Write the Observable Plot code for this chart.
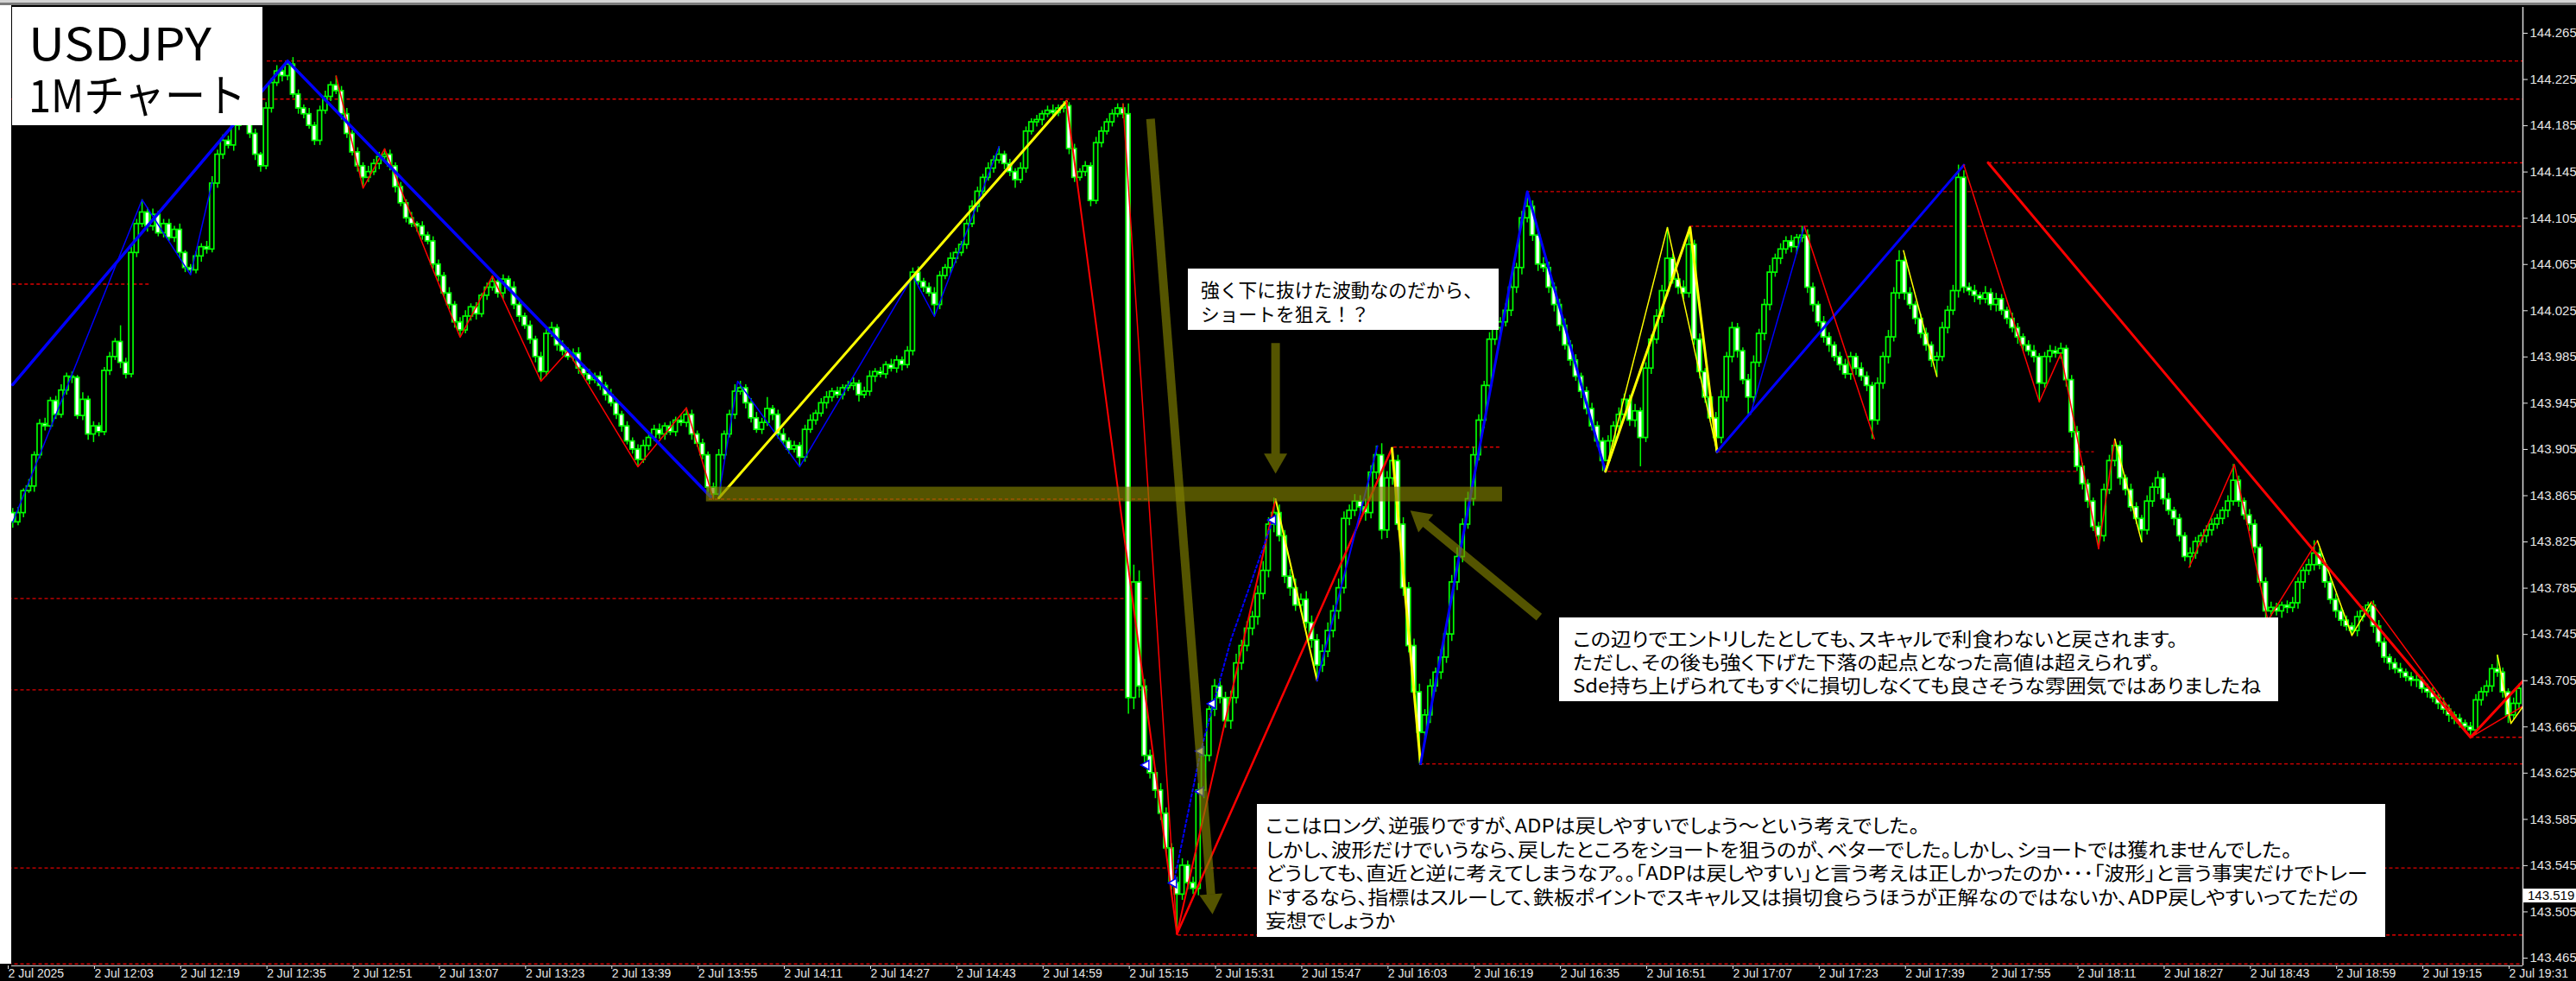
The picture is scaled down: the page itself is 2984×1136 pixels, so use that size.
<!DOCTYPE html>
<html><head><meta charset="utf-8">
<script src="https://cdn.jsdelivr.net/npm/d3@7"></script>
<script src="https://cdn.jsdelivr.net/npm/@observablehq/plot@0.6"></script>
<style>
html,body{margin:0;padding:0;background:#000;}
#wrap{position:relative;width:2984px;height:1136px;overflow:hidden;background:#000;}
#wrap svg{position:absolute;left:0;top:0;}
.box{position:absolute;background:#fff;color:#000;font-family:"Noto Sans CJK JP";white-space:nowrap;box-sizing:border-box;overflow:visible;}
.box span{display:inline-block;transform-origin:0 50%;}
#tag{position:absolute;left:2923px;width:61px;height:16px;background:#fff;color:#000;font:15px "Liberation Sans";line-height:16px;text-align:left;padding-left:5px;box-sizing:border-box;}
</style></head><body><div id="wrap"></div>
<script>
// ---------- DATA (prices in 0.001 above 143.000) ----------
const firstOpen = 846;
const closePts = [
850,842,850,869,873,900,927,925,947,935,
956,968,967,934,948,918,925,920,973,985,
998,980,970,1075,1100,1110,1098,1108,1092,1100,
1088,1095,1075,1062,1060,1072,1080,1078,1135,1160,
1172,1168,1185,1190,1195,1178,1160,1150,1200,1222,
1232,1228,1238,1212,1200,1195,1185,1172,1198,1210,
1220,1215,1195,1178,1162,1150,1140,1145,1152,1158,
1160,1150,1132,1118,1105,1100,1098,1090,1085,1065,
1055,1040,1030,1015,1008,1020,1028,1022,1038,1045,
1050,1040,1052,1045,1030,1020,1012,1000,985,972,
1005,1010,995,990,985,988,975,970,965,968,
960,952,945,935,925,912,905,896,908,915,
922,918,925,920,930,928,935,918,910,900,
872,866,900,918,935,955,958,945,932,922,
928,940,935,918,912,905,908,898,922,930,
936,945,950,955,952,958,960,962,952,955,
968,972,970,978,975,982,978,990,1058,1050,
1045,1040,1030,1055,1062,1070,1075,1082,1100,1115,
1128,1140,1148,1155,1160,1152,1145,1138,1148,1180,
1188,1190,1195,1198,1196,1200,1202,1165,1140,1145,
1150,1120,1170,1180,1188,1195,1200,1195,690,790,
700,640,625,610,590,560,530,520,545,530,
525,610,640,680,700,690,670,690,720,735,
750,760,780,800,840,850,830,795,785,770,
775,755,740,718,730,748,765,785,845,852,
860,855,850,885,900,835,880,895,840,785,
735,695,660,675,700,712,725,745,790,812,
840,862,900,930,960,1000,1010,1015,1025,1045,
1062,1105,1115,1090,1065,1062,1045,1030,1012,995,
982,968,955,940,925,912,895,912,925,935,
948,930,938,915,975,1000,1020,1042,1070,1052,
1045,1040,1082,1000,972,950,932,915,950,985,
1010,990,965,950,980,1005,1030,1058,1070,1078,
1085,1080,1088,1090,1045,1030,1015,1002,995,985,
978,970,985,975,968,960,930,962,985,1002,
1040,1068,1040,1030,1018,1005,995,982,985,1010,
1025,1042,1140,1045,1042,1038,1035,1040,1030,1035,
1025,1018,1010,1002,995,990,985,962,985,990,
988,992,965,920,890,875,860,838,830,870,
895,908,880,870,855,845,835,860,872,880,
862,852,845,830,812,815,825,830,835,840,
845,852,860,878,860,848,840,820,790,765,
768,765,770,768,772,790,800,805,815,805,
790,775,765,757,752,748,760,765,770,752,
738,725,720,715,712,708,705,705,698,695,
690,685,680,675,672,668,665,662,688,695,
700,715,712,695,675,685,698];
const upperWick = [
3,4,5,2,6,3,4,5,3,4, 5,3,4,2,6,3,4,3,3,4, 3,14,4,5,4,11,4,5,3,4, 4,3,5,2,3,4,3,5,6,4,
5,4,3,4,6,3,4,2,5,4, 5,4,3,6,4,3,5,3,4,5, 3,8,4,5,3,4,3,5,4,4, 5,4,3,4,3,5,2,4,3,4,
4,3,5,3,4,5,3,4,2,4, 5,4,4,3,5,4,3,4,3,4, 4,5,3,4,3,4,5,3,4,3, 4,3,5,4,3,4,3,4,5,3,
4,5,3,4,3,5,6,4,3,4, 3,4,5,3,4,6,6,3,4,5, 4,10,3,4,5,3,4,3,4,5, 3,4,5,3,4,3,4,5,3,4,
5,3,4,3,5,4,3,4,4,5, 3,4,5,4,3,5,4,3,4,5, 4,3,5,4,7,3,4,3,5,4, 3,4,3,4,5,3,4,3,4,3,
4,3,5,4,3,4,4,4,9,15, 10,6,5,4,6,5,4,5,6,4, 5,6,8,5,6,7,5,6,8,5, 6,5,7,8,6,13,7,5,6,8,
5,7,6,5,6,7,5,8,6,5, 6,5,7,6,8,10,6,11,5,6, 5,6,7,5,6,4,7,5,6,8, 5,6,7,5,4,6,5,4,6,5,
4,6,13,5,4,6,5,4,5,6, 4,5,3,4,5,4,3,5,4,6, 5,4,6,3,5,4,6,5,27,4, 5,6,15,4,5,3,4,5,6,4,
5,4,3,5,6,4,5,6,4,5, 4,5,3,8,5,4,3,5,4,3, 4,5,4,3,5,4,3,5,4,6, 5,9,4,5,3,4,5,3,4,5,
4,5,11,6,4,5,3,6,4,5, 4,3,5,4,3,4,5,3,4,5, 4,5,3,4,5,3,4,3,4,5, 5,6,4,3,5,4,3,5,4,6,
4,5,3,4,3,5,4,3,4,5, 4,3,5,14,4,3,5,4,3,4, 5,4,3,4,5,4,3,5,11,4, 3,4,5,3,4,3,5,4,3,4,
5,4,3,4,5,3,4,5,3,4, 4,3,5,4,3,4,3,4,5,4, 5,4,12,4,3,5,4];
const lowerWick = [
4,5,3,4,2,5,3,4,3,4, 3,4,5,3,4,5,7,4,3,4, 3,5,4,3,4,3,5,4,3,4, 3,4,5,4,4,3,5,4,3,4,
4,3,5,4,3,4,5,5,3,4, 3,5,4,3,5,4,3,4,4,3, 4,3,5,4,3,5,9,4,3,5, 3,4,5,3,4,3,5,4,3,4,
5,3,4,5,6,3,4,5,3,4, 3,4,5,3,4,5,3,4,5,8, 4,3,5,4,3,4,5,3,4,3, 4,5,3,4,5,3,4,6,3,4,
3,4,5,3,4,3,4,5,3,4, 5,4,3,4,3,4,3,5,4,3, 4,3,5,4,3,4,3,8,4,3, 4,3,5,4,3,4,3,4,6,3,
4,5,3,4,3,4,5,3,4,3, 4,3,10,4,3,5,4,3,4,3, 5,4,3,4,3,5,4,7,3,4, 3,4,5,3,4,3,4,5,4,3,
4,5,3,4,3,4,3,4,14,10, 10,6,5,7,6,5,6,34,5,6, 5,6,7,5,6,5,6,7,5,6, 5,6,7,5,6,7,5,6,7,5,
6,5,7,13,6,5,6,7,5,6, 5,6,7,5,6,8,7,6,5,7, 6,5,27,6,7,5,6,5,6,7, 5,4,6,5,7,4,5,6,4,5,
5,6,4,5,6,4,5,6,5,4, 5,4,6,5,4,5,9,4,5,6, 4,5,6,25,4,5,4,6,5,4, 6,5,4,5,6,5,4,12,5,4,
5,6,4,15,5,4,6,5,4,5, 4,5,6,4,5,6,4,5,6,4, 5,4,5,6,4,5,16,4,5,6, 4,5,6,4,5,4,5,6,14,4,
5,4,6,5,4,6,5,4,5,6, 4,5,4,6,5,4,5,16,4,5, 4,5,6,5,4,5,6,4,11,5, 4,5,6,5,4,5,10,4,5,6,
5,4,6,5,4,9,5,4,6,5, 4,5,6,4,5,4,6,5,4,8, 5,4,6,5,4,5,6,4,5,4, 5,4,6,5,4,4,5,4,5,6,
4,5,6,4,5,4,5,6,4,5, 4,5,4,6,5,4,5,7,4,5, 4,5,4,5,7,4,5];

const priceTicks = [144.265,144.225,144.185,144.145,144.105,144.065,144.025,143.985,143.945,143.905,
  143.865,143.825,143.785,143.745,143.705,143.665,143.625,143.585,143.545,143.505,143.465];
const timeTicks = [0,16,32,48,64,80,96,112,128,144,160,176,192,208,224,240,256,272,288,304,320,336,352,368,384,400,416,432,448,464];
const timeLabels = ["2 Jul 2025","2 Jul 12:03","2 Jul 12:19","2 Jul 12:35","2 Jul 12:51","2 Jul 13:07","2 Jul 13:23","2 Jul 13:39",
  "2 Jul 13:55","2 Jul 14:11","2 Jul 14:27","2 Jul 14:43","2 Jul 14:59","2 Jul 15:15","2 Jul 15:31","2 Jul 15:47","2 Jul 16:03",
  "2 Jul 16:19","2 Jul 16:35","2 Jul 16:51","2 Jul 17:07","2 Jul 17:23","2 Jul 17:39","2 Jul 17:55","2 Jul 18:11","2 Jul 18:27",
  "2 Jul 18:43","2 Jul 18:59","2 Jul 19:15","2 Jul 19:31"];
const currentPrice = 143.519;

// horizontal levels [price, fromBar, toBar]
const levels = [[144.241,48.2,467],[144.208,-2,467],[144.048,1,26.3],[144.153,367.6,467],[144.128,281.9,467],
  [144.098,312.2,467],[143.907,257.2,277.3],[143.903,317.2,387.2],[143.886,297,384],[143.862,130.2,211.8],
  [143.776,-2,212],[143.697,-2,212],[143.543,-2,467],[143.485,217.2,467],[143.656,457,467],[143.633,262.2,467],[143.460,-2,467]];

// zigzag lines [bar, price]
const blueThickA = [[1,143.961],[52,144.241],[130.5,143.864]];
const yellowThickA = [[132,143.863],[196.5,144.206]];
const redThin1 = [[196.5,144.206],[217,143.486]];
const redThin2 = [[207,144.204],[217,143.486]];
const redThin3 = [[217,143.486],[235.3,143.862]];
const redThin4 = [[217,143.486],[256.9,143.906]];
const blueDot1 = [[216.4,143.530],[221.4,143.644],[227,143.740],[234.8,143.844]];
const yellowThin1 = [[235.3,143.862],[243,143.705]];
const blueThin1 = [[243,143.705],[254.2,143.908]];
const yellowThickB = [[256.9,143.906],[262.2,143.633]];
const blueThickB = [[262.2,143.633],[282,144.128],[296.5,143.886]];
const yellowThinB = [[296.5,143.886],[308,144.097],[317.2,143.903]];
const yellowThickC = [[296.5,143.886],[312.2,144.097],[317.2,143.903]];
const blueThickC = [[317.2,143.903],[363,144.151]];
const blueThinC = [[323.4,143.935],[333.4,144.098]];
const redThinC = [[333.4,144.098],[346.4,143.914]];
const yellowThinC = [[351.8,144.077],[358,143.968]];
const redThinD = [[363,144.151],[377,143.946],[381,143.988],[388,143.819],[391,143.914]];
const yellowThinD = [[391,143.914],[396,143.825]];
const redThinE = [[404.8,143.803],[413.2,143.892],[419.4,143.757],[428.6,143.826]];
const yellowThinE = [[428.6,143.826],[435,143.744],[438.6,143.773]];
const redThinF = [[438.6,143.773],[457,143.656],[466.8,143.683]];
const yellowThinF = [[462,143.727],[464.5,143.668],[466.8,143.683]];
const redThickD = [[367.5,144.153],[457,143.656],[467,143.706]];
const blueThinL = [[1,143.842],[25,144.121],[34,144.056],[38,144.136]];
const redThinL = [[61,144.228],[66,144.131],[70,144.165],[84,144.002],[90,144.055],[99,143.964],[104,143.990],[117,143.890],[126,143.941],[131,143.862]];
const blueThinM = [[132,143.865],[135.5,143.964],[147,143.890],[168,144.055],[172,144.020],[184,144.167]];
const markerPts = [[211.3,143.632],[216.4,143.530],[221.4,143.644],[221.4,143.609],[223.6,143.685],[234.8,143.844]];

// olive drawings: band [fromBar, toBar, lowPrice, highPrice], arrows [tailBar, tailPrice, tipBar, tipPrice]
const band = [129.7, 277.4, 143.8597, 143.8724];
const arrows = [[212.1,144.191,223.6,143.503],[235.3,143.997,235.3,143.884],[284.2,143.760,260.3,143.852]];

// ---------- BUILD ----------
const xDomain = [0, 464], xRange = [8, 2905];
const yDomain = [143.465, 144.265], yRange = [1109, 38];
const X = d3.scaleLinear(xDomain, xRange), Y = d3.scaleLinear(yDomain, yRange);

const bars = closePts.map((c, i) => {
  const o = i === 0 ? firstOpen : closePts[i - 1];
  const top = Math.max(o, c), bot = Math.min(o, c);
  return {i, open: 143 + o / 1000, close: 143 + (c === o ? c + 0.6 : c) / 1000,
    high: 143 + (top + upperWick[i]) / 1000, low: 143 + (bot - lowerWick[i]) / 1000, bull: c >= o};
});

const olive = "rgb(128,128,0)", oliveOp = 0.66;
const shafts = [], heads = [];
for (const [t0, p0, t1, p1] of arrows) {
  const x0 = X(t0), y0 = Y(p0), x1 = X(t1), y1 = Y(p1);
  const L = Math.hypot(x1 - x0, y1 - y0), ux = (x1 - x0) / L, uy = (y1 - y0) / L;
  const bx = x1 - ux * 23, by = y1 - uy * 23, cx = x1 - ux * 15.5, cy = y1 - uy * 15.5;
  shafts.push({x1: t0, y1: p0, x2: X.invert(bx), y2: Y.invert(by)});
  heads.push({x: X.invert(cx), y: Y.invert(cy), rot: Math.atan2(ux, -uy) * 180 / Math.PI});
}

const line = (pts, stroke, w, dash) => Plot.line(pts, {x: d => d[0], y: d => d[1], stroke, strokeWidth: w, strokeDasharray: dash, clip: true});
const lime = "#00ff00";
const labelOf = new Map(timeTicks.map((t, k) => [t, timeLabels[k]]));
const hw = 0.4;

const plot = Plot.plot({
  width: 2984, height: 1136,
  marginLeft: 13, marginRight: 62, marginTop: 8, marginBottom: 18,
  x: {domain: xDomain, range: xRange},
  y: {domain: yDomain, range: yRange},
  style: {background: "#000", color: "#e6e6e6", fontFamily: "Liberation Sans", fontSize: "15px", overflow: "visible"},
  marks: [
    Plot.ruleY(levels, {y: d => d[0], x1: d => d[1], x2: d => d[2], stroke: "#e00000", strokeWidth: 1.4, strokeDasharray: "4,3", clip: true}),
    Plot.ruleX(bars, {x: "i", y1: "low", y2: "high", stroke: lime, strokeWidth: 1.5, clip: true}),
    Plot.rect(bars.filter(d => d.bull), {x1: d => d.i - hw, x2: d => d.i + hw, y1: "open", y2: "close", fill: "#000", stroke: lime, strokeWidth: 1.7, clip: true}),
    Plot.rect(bars.filter(d => !d.bull), {x1: d => d.i - hw, x2: d => d.i + hw, y1: "open", y2: "close", fill: "#ffffff", stroke: lime, strokeWidth: 1.7, clip: true}),
    line(redThinL, "#ff0000", 1.5),
    line(blueThinL, "#0000ff", 1.5),
    line(blueThinM, "#0000ff", 1.5),
    line(blueThickA, "#0000ff", 3.5),
    line(yellowThickA, "#ffff00", 3),
    line(redThin1, "#ff0000", 2),
    line(redThin2, "#ff0000", 1.5),
    line(redThin3, "#ff0000", 2),
    line(redThin4, "#ff0000", 2.5),
    line(blueDot1, "#0000ff", 2, "3,3"),
    line(yellowThin1, "#ffff00", 2),
    line(blueThin1, "#0000ff", 2),
    line(yellowThickB, "#ffff00", 3),
    line(blueThickB, "#0000ff", 3),
    line(yellowThinB, "#ffff00", 1.5),
    line(yellowThickC, "#ffff00", 3),
    line(blueThickC, "#0000ff", 3),
    line(blueThinC, "#0000ff", 1.5),
    line(redThinC, "#ff0000", 1.5),
    line(yellowThinC, "#ffff00", 1.5),
    line(redThinD, "#ff0000", 1.5),
    line(yellowThinD, "#ffff00", 1.5),
    line(redThinE, "#ff0000", 1.5),
    line(yellowThinE, "#ffff00", 1.5),
    line(redThinF, "#ff0000", 1.5),
    line(yellowThinF, "#ffff00", 1.5),
    line(redThickD, "#ff0000", 3),
    Plot.dot(markerPts, {x: d => d[0], y: d => d[1], symbol: "triangle", rotate: -90, r: 4, fill: "#fff", stroke: "#0000ff", strokeWidth: 1.5}),
    Plot.rect([band], {x1: d => d[0], x2: d => d[1], y1: d => d[2], y2: d => d[3], fill: olive, fillOpacity: oliveOp}),
    Plot.link(shafts, {x1: "x1", y1: "y1", x2: "x2", y2: "y2", stroke: olive, strokeOpacity: oliveOp, strokeWidth: 10, strokeLinecap: "butt"}),
    Plot.dot(heads, {x: "x", y: "y", rotate: "rot", symbol: "triangle", r: 10, fill: olive, fillOpacity: oliveOp, stroke: "none"}),
    Plot.axisY({anchor: "right", ticks: priceTicks, tickFormat: d => d.toFixed(3), tickSize: 5, tickPadding: 3, fontSize: 15}),
    Plot.axisX({anchor: "bottom", ticks: timeTicks, tickFormat: d => labelOf.get(d), tickSize: 4, tickPadding: 0, textAnchor: "start", dx: 1, fontSize: 14, fontFamily: "Liberation Sans"})
  ]
});

const wrap = document.getElementById("wrap");
wrap.appendChild(plot);

// frame lines
const svg = d3.select(plot);
svg.append("line").attr("x1", 2922.5).attr("x2", 2922.5).attr("y1", 8).attr("y2", 1118).attr("stroke", "#d8d8d8").attr("stroke-width", 1.5);
svg.append("line").attr("x1", 13).attr("x2", 2922).attr("y1", 1118.5).attr("y2", 1118.5).attr("stroke", "#d8d8d8").attr("stroke-width", 1);

// current price tag (positioned by the plot's y scale)
const cyTag = plot.scale("y").apply(currentPrice);
const tag = document.createElement("div"); tag.id = "tag"; tag.style.top = (cyTag - 8) + "px"; tag.textContent = currentPrice.toFixed(3);

// window edges
function strip(l, t, w, h, c) { const d = document.createElement("div"); Object.assign(d.style, {position: "absolute", left: l + "px", top: t + "px", width: w + "px", height: h + "px", background: c}); wrap.appendChild(d); }
strip(0, 0, 2984, 3, "#d4d4d4");
strip(0, 3, 2984, 3, "#7a7a7a");
strip(0, 6, 13, 1110, "#ffffff");
wrap.appendChild(tag);

// text boxes
function box(cfg) {
  const div = document.createElement("div"); div.className = "box";
  Object.assign(div.style, {left: cfg.x + "px", top: cfg.y + "px", width: cfg.w + "px", height: cfg.h + "px",
    paddingLeft: cfg.pl + "px", paddingTop: cfg.pt + "px", fontSize: cfg.fs + "px", lineHeight: cfg.lh + "px",
    fontWeight: cfg.fw || 400, fontFeatureSettings: cfg.palt ? '"palt"' : 'normal'});
  const spans = cfg.lines.map(t => { const l = document.createElement("div"); l.style.height = cfg.lh + "px"; const s = document.createElement("span"); s.textContent = t; l.appendChild(s); div.appendChild(l); return s; });
  wrap.appendChild(div);
  const apply = () => {
    spans.forEach(s => s.style.transform = "none");
    if (cfg.fit) { const k = cfg.fit[1] / spans[cfg.fit[0]].getBoundingClientRect().width; spans.forEach(s => s.style.transform = `scaleX(${k})`); }
    if (cfg.fits) spans.forEach((s, j) => { const k = cfg.fits[j] / s.getBoundingClientRect().width; s.style.transform = `scaleX(${k})`; });
  };
  apply(); if (document.fonts) document.fonts.ready.then(apply);
}
box({x: 14, y: 8, w: 290, h: 137, pl: 19, pt: 10, fs: 52, lh: 60, fits: [212, 252], lines: ["USDJPY", "1Mチャート"]});
box({x: 1376, y: 311, w: 360, h: 71, pl: 15, pt: 10, fs: 21.5, lh: 28, fit: [0, 326], lines: ["強く下に抜けた波動なのだから、", "ショートを狙え！？"]});
box({x: 1806, y: 715, w: 833, h: 97, pl: 16, pt: 10, fs: 22, lh: 27, palt: true, fit: [2, 797], lines: [
  "この辺りでエントリしたとしても、スキャルで利食わないと戻されます。",
  "ただし、その後も強く下げた下落の起点となった高値は超えられず。",
  "Sde持ち上げられてもすぐに損切しなくても良さそうな雰囲気ではありましたね"]});
box({x: 1456, y: 931, w: 1307, h: 154, pl: 10, pt: 10, fs: 22, lh: 27.5, palt: true, fit: [3, 1266], lines: [
  "ここはロング、逆張りですが、ADPは戻しやすいでしょう～という考えでした。",
  "しかし、波形だけでいうなら、戻したところをショートを狙うのが、ベターでした。しかし、ショートでは獲れませんでした。",
  "どうしても、直近と逆に考えてしまうなア。。「ADPは戻しやすい」と言う考えは正しかったのか･･･「波形」と言う事実だけでトレー",
  "ドするなら、指標はスルーして、鉄板ポイントでスキャル又は損切食らうほうが正解なのではないか、ADP戻しやすいってただの",
  "妄想でしょうか"]});
</script></body></html>
